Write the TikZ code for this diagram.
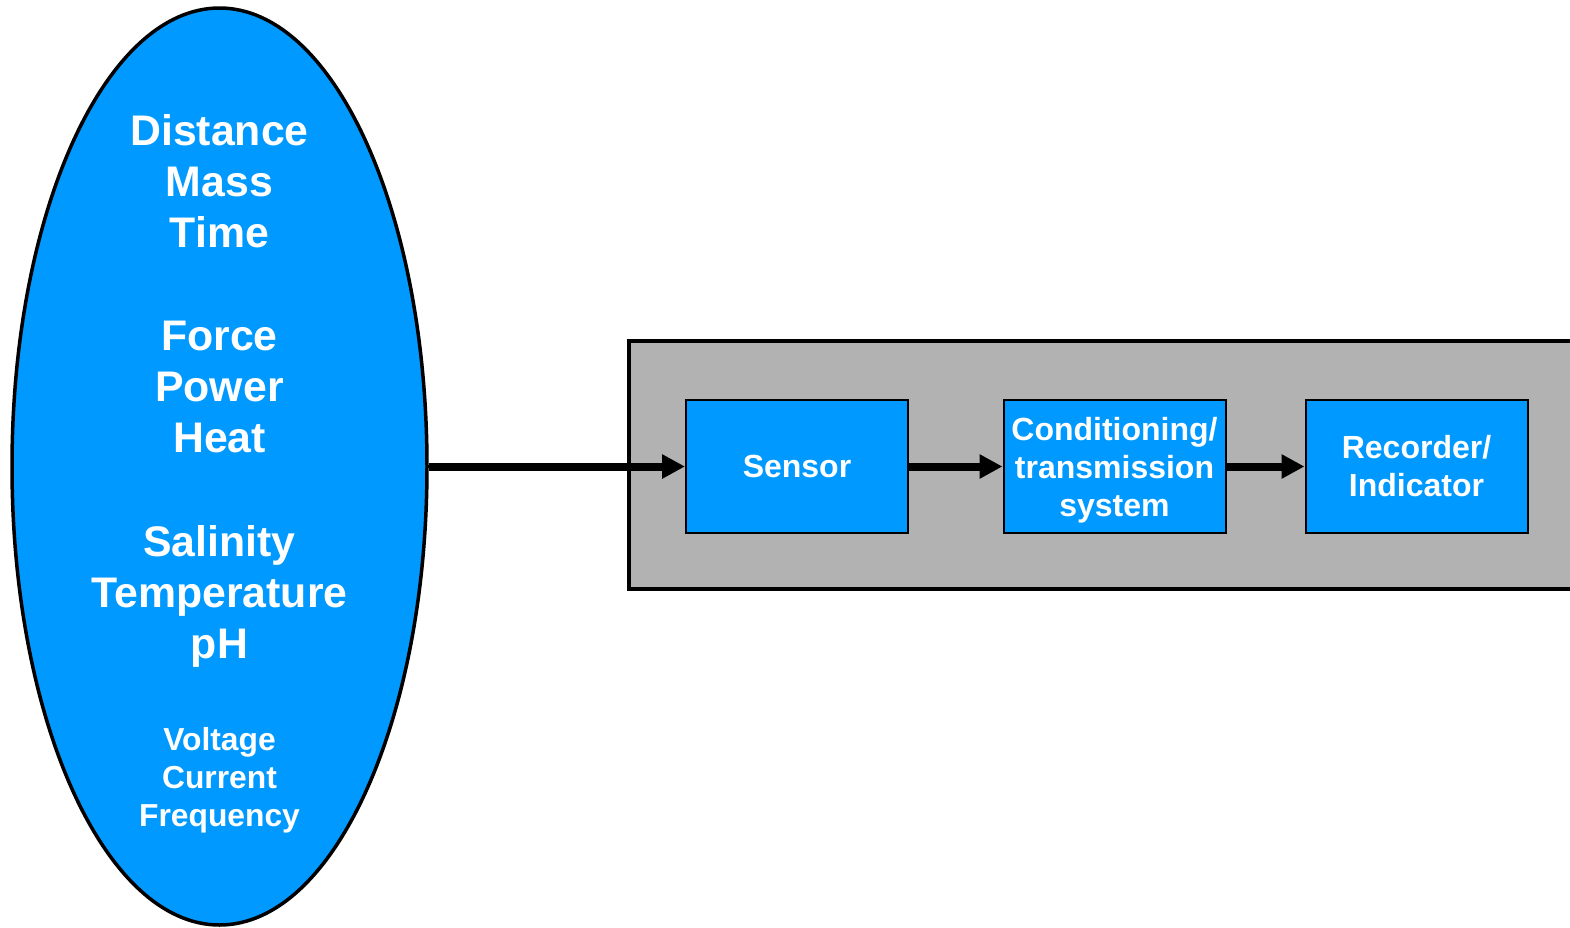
\documentclass[tikz,border=0pt]{standalone}
\usepackage{fontspec}
\setmainfont{Liberation Sans}
\usepackage{tikz}
\usepackage{xcolor}
\usetikzlibrary{shapes.geometric, arrows.meta}
\definecolor{MeasBlue}{RGB}{0, 153, 255}
\definecolor{PanelGray}{RGB}{178, 178, 178}

\begin{document}
\begin{tikzpicture}[x = 0.5pt, y = -0.5pt,
    big/.style = {text = white, font = \bfseries\fontsize{21.4}{25.75}\selectfont, anchor = base, inner sep = 0pt},
    small/.style = {text = white, font = \bfseries\fontsize{15.9}{19}\selectfont, anchor = base, inner sep = 0pt},
    block/.style = {draw = black, line width = 1pt, fill = MeasBlue, text = white, minimum width = 111pt, minimum height = 66.5pt, inner sep = 0pt, align = center, font = \bfseries\fontsize{16}{19}\selectfont},
    flow/.style = {line width = 4pt, -{Triangle[length = 11.5pt, width = 11.5pt]}}]
            \clip (0, 0) rectangle (1570, 927);
            %被测量
            \node[ellipse, draw, line width = 1.75pt, fill = MeasBlue, minimum width = 207.5pt, minimum height = 458.5pt, inner sep = 0pt] (meas) at (219.5, 466.5) {};
            \node[big] (dist) at (219.5, 145) {Distance};
            \node[big] (mass) at (219.5, 196) {Mass};
            \node[big] (time) at (219.5, 247) {Time};
            \node[big] (force) at (219.5, 350) {Force};
            \node[big] (power) at (219.5, 401) {Power};
            \node[big] (heat) at (219.5, 452) {Heat};
            \node[big] (sal) at (219.5, 556) {Salinity};
            \node[big] (temp) at (219.5, 607) {Temperature};
            \node[big] (ph) at (219.5, 658) {pH};
            \node[small] (volt) at (219.5, 750) {Voltage};
            \node[small] (curr) at (219.5, 788) {Current};
            \node[small] (freq) at (219.5, 826) {Frequency};
            %测量系统
            \draw[fill = PanelGray, line width = 1.75pt] (629, 341) rectangle (1620, 589);
            \node[block] (sensor) at (797, 466.5) {Sensor};
            \node[block] (cond) at (1114.5, 466.5) {\raisebox{-2pt}[\height][\depth]{\parbox{111pt}{\centering Conditioning/\\transmission\\system}}};
            \node[block] (rec) at (1416.5, 466.5) {Recorder/\\Indicator};
            %箭头
            \draw[flow] (meas.east) -- (sensor.west);
            \draw[flow] (sensor.east) -- (cond.west);
            \draw[flow] (cond.east) -- (rec.west);
        \end{tikzpicture}
\end{document}
